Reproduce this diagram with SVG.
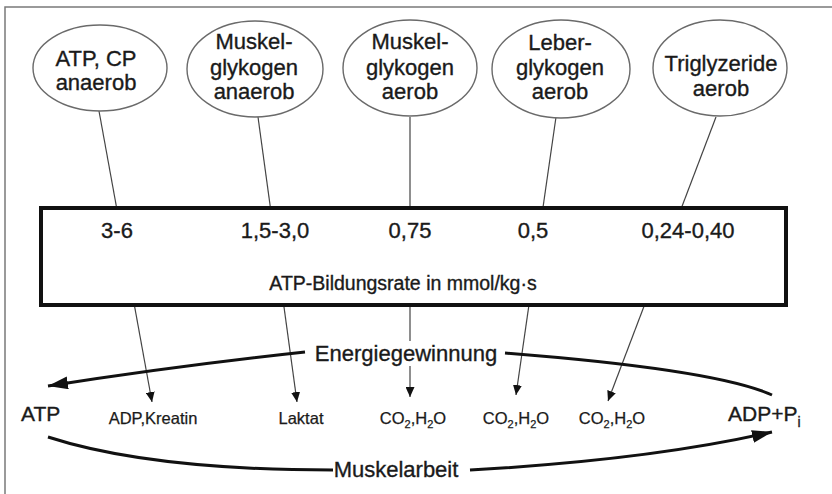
<svg xmlns="http://www.w3.org/2000/svg" width="832" height="494" viewBox="0 0 832 494">
<style>
text{font-family:"Liberation Sans",Arial,sans-serif;fill:#1a1a1a;stroke:#1a1a1a;stroke-width:0.35}
.el{fill:#fff;stroke:#6a6a6a;stroke-width:1.4}
.et{font-size:22px;text-anchor:middle}
.num{font-size:22px;text-anchor:middle}
.thin{fill:none;stroke:#444;stroke-width:1.2}
.thick{fill:none;stroke:#111;stroke-width:3}
.big{font-size:22px;text-anchor:middle}
.sm{font-size:16.5px;text-anchor:middle;stroke-width:0.25}
</style>
<defs>
<marker id="ah" markerUnits="userSpaceOnUse" markerWidth="10" markerHeight="9" refX="10" refY="4.5" orient="auto">
<path d="M0,0 L10,4.5 L0,9 z" fill="#111"/>
</marker>
<marker id="ahb" markerUnits="userSpaceOnUse" markerWidth="20" markerHeight="13" refX="20" refY="6.5" orient="auto">
<path d="M0,0 L20,6.5 L0,13 z" fill="#111"/>
</marker>
</defs>
<rect x="5" y="7" width="840" height="500" fill="#fff" stroke="#7a7a7a" stroke-width="1.5"/>
<g id="connectors">
<path class="thin" d="M99,111 L152,402" marker-end="url(#ah)"/>
<path class="thin" d="M258,117 L297,402" marker-end="url(#ah)"/>
<path class="thin" d="M410,117 L410,397" marker-end="url(#ah)"/>
<path class="thin" d="M556,117 L516,395" marker-end="url(#ah)"/>
<path class="thin" d="M716,117 L608,401" marker-end="url(#ah)"/>
<path class="thick" d="M305,352 Q175,366 48,386" marker-end="url(#ahb)"/>
<path class="thick" d="M505,353 C620,362 730,376 772,395"/>
<path class="thick" d="M48,437 Q150,470 333,470"/>
<path class="thick" d="M470,470 Q650,460 772,432" marker-end="url(#ahb)"/>
</g>
<g id="n1"><ellipse class="el" cx="100" cy="68" rx="67" ry="43"/><text class="et" x="96" y="66">ATP, CP</text><text class="et" x="96" y="90">anaerob</text></g>
<g id="n2"><ellipse class="el" cx="255" cy="69" rx="68" ry="48"/><text class="et" x="254" y="49">Muskel-</text><text class="et" x="254" y="75">glykogen</text><text class="et" x="254" y="99">anaerob</text></g>
<g id="n3"><ellipse class="el" cx="410" cy="68" rx="67" ry="48"/><text class="et" x="410" y="49">Muskel-</text><text class="et" x="410" y="75">glykogen</text><text class="et" x="410" y="99">aerob</text></g>
<g id="n4"><ellipse class="el" cx="561" cy="69" rx="69" ry="49"/><text class="et" x="560" y="50">Leber-</text><text class="et" x="560" y="75">glykogen</text><text class="et" x="560" y="99">aerob</text></g>
<g id="n5"><ellipse class="el" cx="720" cy="68" rx="67" ry="48"/><text class="et" x="721" y="71">Triglyzeride</text><text class="et" x="721" y="96">aerob</text></g>
<g id="box">
<rect x="41" y="208" width="745" height="97" fill="#fff" stroke="#111" stroke-width="4"/>
<text class="num" x="117" y="238">3-6</text>
<text class="num" x="275" y="238">1,5-3,0</text>
<text class="num" x="410" y="238">0,75</text>
<text class="num" x="533" y="238">0,5</text>
<text class="num" x="688" y="238">0,24-0,40</text>
<text x="403" y="290" font-size="19.5" text-anchor="middle">ATP-Bildungsrate in mmol/kg·s</text>
</g>
<g id="energie"><rect x="311" y="341" width="190" height="25" fill="#fff" stroke="none"/><text class="big" x="406" y="361">Energiegewinnung</text></g>
<g id="muskelarbeit"><text class="big" x="396" y="477">Muskelarbeit</text></g>
<g id="atp"><text x="21" y="421" font-size="21" stroke-width="0.6">ATP</text></g>
<g id="adpkreatin"><text class="sm" x="153" y="424">ADP,Kreatin</text></g>
<g id="laktat"><text class="sm" x="301" y="424">Laktat</text></g>
<g id="co2a"><text class="sm" x="413" y="424">CO<tspan font-size="11" dy="4">2</tspan><tspan dy="-4">,H</tspan><tspan font-size="11" dy="4">2</tspan><tspan dy="-4">O</tspan></text></g>
<g id="co2b"><text class="sm" x="516" y="424">CO<tspan font-size="11" dy="4">2</tspan><tspan dy="-4">,H</tspan><tspan font-size="11" dy="4">2</tspan><tspan dy="-4">O</tspan></text></g>
<g id="co2c"><text class="sm" x="612" y="424">CO<tspan font-size="11" dy="4">2</tspan><tspan dy="-4">,H</tspan><tspan font-size="11" dy="4">2</tspan><tspan dy="-4">O</tspan></text></g>
<g id="adppi"><text x="728" y="421" font-size="21">ADP+P<tspan font-size="14" dy="6">i</tspan></text></g>
</svg>
